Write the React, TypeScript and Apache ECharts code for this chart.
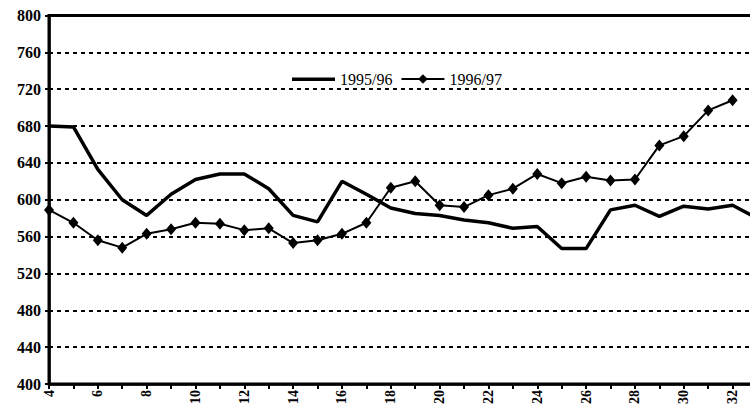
import React, { useEffect, useRef } from "react";
import * as echarts from "echarts";

const weeks = [
  "4", "5", "6", "7", "8", "9", "10", "11", "12", "13", "14", "15", "16", "17", "18",
  "19", "20", "21", "22", "23", "24", "25", "26", "27", "28", "29", "30", "31", "32", "33",
];
const season9596 = [
  680, 679, 633, 600, 583, 606, 622, 628, 628, 612, 583, 576, 620, 606, 591,
  585, 583, 578, 575, 569, 571, 547, 547, 589, 594, 582, 593, 590, 594, 580,
];
const season9697 = [
  589, 575, 556, 548, 563, 568, 575, 574, 567, 569, 553, 556, 563, 575, 613,
  620, 594, 592, 605, 612, 628, 618, 625, 621, 622, 659, 669, 697, 708, null,
];
const seriesNames = ["1995/96", "1996/97"];

export default function App() {
  const ref = useRef<HTMLDivElement>(null);
  useEffect(() => {
    if (!ref.current) return;
    const chart = echarts.init(ref.current, undefined, { renderer: "svg" });
    const font = "'Liberation Serif', 'Times New Roman', serif";
    chart.setOption({
      animation: false,
      backgroundColor: "#fff",
      grid: {
        left: 49,
        right: 13,
        top: 15.5,
        bottom: 26,
        show: true,
        borderColor: "#000",
        borderWidth: 3,
        backgroundColor: "transparent",
      },
      legend: {
        left: 287,
        top: 66,
        itemWidth: 43,
        itemHeight: 12,
        itemGap: 8,
        data: [
          { name: seriesNames[0], icon: "path://M0,0ZM0,4.5H43V8H0ZM0,12Z" },
          { name: seriesNames[1] },
        ],
        textStyle: { fontFamily: font, fontSize: 16, color: "#000" },
      },
      xAxis: {
        type: "category",
        data: weeks,
        boundaryGap: false,
        axisLine: { lineStyle: { color: "#000", width: 2.5 } },
        axisTick: { interval: 0, length: 5, lineStyle: { color: "#000", width: 2 } },
        axisLabel: {
          interval: 1,
          rotate: 90,
          margin: 6,
          fontFamily: font,
          fontWeight: "bold",
          fontSize: 14,
          color: "#000",
        },
        splitLine: { show: false },
      },
      yAxis: {
        type: "value",
        min: 400,
        max: 800,
        interval: 40,
        axisLine: { show: true, lineStyle: { color: "#000", width: 2.5 } },
        axisTick: { show: true, length: 4, lineStyle: { color: "#000", width: 2 } },
        axisLabel: {
          margin: 8,
          fontFamily: font,
          fontWeight: "bold",
          fontSize: 16,
          color: "#000",
        },
        splitLine: {
          show: true,
          lineStyle: { color: "#000", width: 2, type: [4, 4] },
        },
      },
      series: [
        {
          name: seriesNames[0],
          type: "line",
          data: season9596,
          symbol: "none",
          lineStyle: { color: "#000", width: 3.5 },
          itemStyle: { color: "#000" },
        },
        {
          name: seriesNames[1],
          type: "line",
          data: season9697,
          symbol: "diamond",
          symbolSize: [10, 12],
          showAllSymbol: true,
          lineStyle: { color: "#000", width: 2 },
          itemStyle: { color: "#000" },
        },
      ],
    });
    return () => chart.dispose();
  }, []);
  return (
    <div
      style={{
        position: "absolute",
        left: 0,
        top: 0,
        width: 750,
        height: 410,
        overflow: "hidden",
        background: "#fff",
      }}
    >
      <div ref={ref} style={{ width: 770, height: 410 }} />
    </div>
  );
}
